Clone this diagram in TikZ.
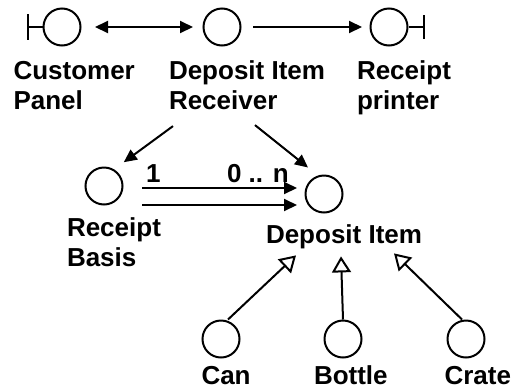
\documentclass[tikz,border=0pt]{standalone}
\usepackage{fontspec}
\setmainfont{Liberation Sans}
\usepackage{tikz}
\usetikzlibrary{arrows.meta}

\begin{document}
\begin{tikzpicture}[x=1pt,y=-1pt,line width=2pt,
    obj/.style={circle,draw,minimum size=37pt,inner sep=0pt},
    lbl/.style={inner sep=0pt,align=left,font=\fontsize{26}{30}\selectfont\bfseries},
    arr/.style={-{Triangle[length=13pt,width=12pt]}},
    gen/.style={-{Triangle[open,length=16pt,width=19pt]}}] % pixel coordinates
    \useasboundingbox (0,0) rectangle (513,389);

    \foreach \i/\x in {cp/62,dir/222,rp/389}{
        \node[obj] (\i) at (\x,27) {};
    }
    \node[obj] (rb) at (104,186) {};
    \node[obj] (di) at (324,194) {};

    \node[lbl,anchor=north west] (cplabel) at (12.5,60) {Customer\\Panel};
    \node[lbl,anchor=north west] (dirlabel) at (168,60) {Deposit Item\\Receiver};
    \node[lbl,anchor=north west] (rplabel) at (356,60) {Receipt\\printer};
    \node[lbl,anchor=north west] (rblabel) at (66,217) {Receipt\\Basis};
    \node[lbl,anchor=base west] (dilabel) at (265,243) {Deposit Item};

    \foreach \i/\x/\lx/\name in {can/221/200.5/Can,bottle/343/313/Bottle,crate/466/443.5/Crate}{
        \node[obj] (\i) at (\x,339) {};
        \node[lbl,anchor=base west] (\i label) at (\lx,384) {\name};
    }

    % interface bars
    \draw ([xshift=-15pt]cp.west) -- (cp.west);
    \draw ([shift={(-15,-13)}]cp.west) -- ([shift={(-15,13)}]cp.west);
    \draw (rp.east) -- ([xshift=15pt]rp.east);
    \draw ([shift={(15,-12)}]rp.east) -- ([shift={(15,12)}]rp.east);

    % associations
    \draw[{Triangle[length=13pt,width=12pt]}-{Triangle[length=13pt,width=12pt]}]
        ([xshift=13.5pt]cp.east) -- ([xshift=-9.5pt]dir.west);
    \draw[arr] ([xshift=11.5pt]dir.east) -- ([xshift=-7.5pt]rp.west);
    \draw[arr] ([shift={(5,15)}]dirlabel.south west) -- ([shift={(6,-10)}]rb.north east);
    \draw[arr] ([shift={(87,14)}]dirlabel.south west) -- ([shift={(-16,-7)}]di.north);
    \draw[arr] ([shift={(18.5,2)}]rb.east) -- ([shift={(-7.5,-6)}]di.west);
    \draw[arr] ([shift={(18.5,19)}]rb.east) -- ([shift={(-7.5,11)}]di.west);

    \node[lbl,anchor=base west] (one) at (145,182) {1};
    \node[lbl,anchor=base west] (many) at (226,182) {0 .. n};

    % generalisation
    \foreach \i/\dx/\tx/\ty in {can/7/31/6,bottle/0/76/7,crate/-4/129/4}{
        \draw[gen] ([xshift=\dx pt]\i.north) -- ([shift={(\tx,\ty)}]dilabel.south west);
    }
\end{tikzpicture}
\end{document}
